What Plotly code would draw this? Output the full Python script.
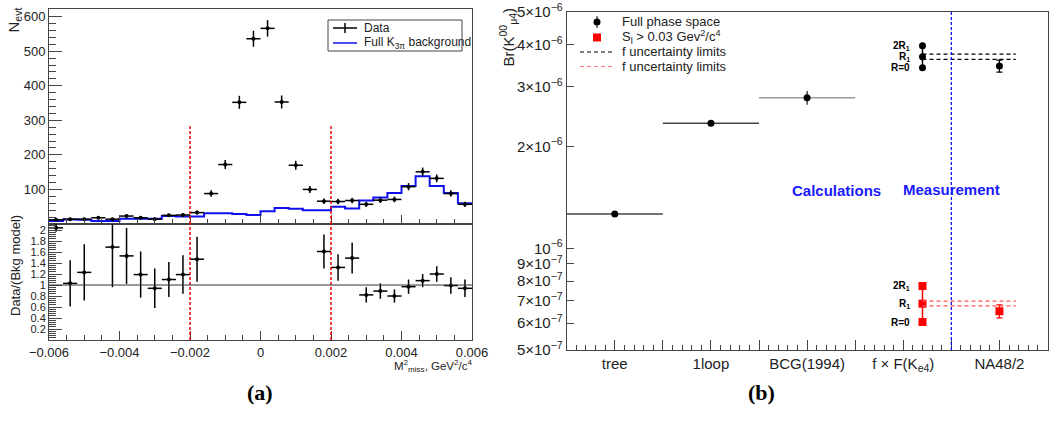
import numpy as np
import plotly.graph_objects as go

# ---------------- Panel (a) data ----------------
bin_centers = [-0.0058, -0.0054, -0.0050, -0.0046, -0.0042, -0.0038, -0.0034, -0.0030,
               -0.0026, -0.0022, -0.0018, -0.0014, -0.0010, -0.0006, -0.0002,
               0.0002, 0.0006, 0.0010, 0.0014, 0.0018, 0.0022, 0.0026, 0.0030,
               0.0034, 0.0038, 0.0042, 0.0046, 0.0050, 0.0054, 0.0058]
bin_half_width = 0.0002
data_counts = [12, 14, 14, 18, 14, 23, 18, 14, 25, 26, 33, 88, 172, 352, 536,
               566, 353, 170, 100, 66, 65, 68, 57, 69, 71, 108, 151, 132, 88, 57]
bkg_counts = [9, 13, 12, 9, 8.5, 15.5, 15.5, 15, 23, 22, 22, 31, 31, 29, 26,
              37, 46, 44, 40, 40, 50, 45, 68, 77, 90, 110, 138, 110, 90, 60]
ratio_vals = [2.04, 1.03, 1.23, None, 1.69, 1.53, 1.19, 0.94, 1.10, 1.19, 1.47,
              None, None, None, None, None, None, None, None,
              1.61, 1.32, 1.49, 0.82, 0.89, 0.80, 0.97, 1.08, 1.20, 0.99, 0.94]
ratio_errs = [0.07, 0.42, 0.51, None, 0.73, 0.51, 0.42, 0.36, 0.32, 0.35, 0.41,
              None, None, None, None, None, None, None, None,
              0.31, 0.24, 0.28, 0.14, 0.14, 0.12, 0.13, 0.12, 0.14, 0.15, 0.16]
cut_values = [-0.002, 0.002]
xticks_a = [-0.006, -0.004, -0.002, 0, 0.002, 0.004, 0.006]
xticklabels_a = ["\u22120.006", "\u22120.004", "\u22120.002", "0", "0.002", "0.004", "0.006"]
yticks_a = [100, 200, 300, 400, 500, 600]
ratio_ticks = [0.2, 0.4, 0.6, 0.8, 1.0, 1.2, 1.4, 1.6, 1.8, 2.0]
ratio_ticklabels = ["0.2", "0.4", "0.6", "0.8", "1", "1.2", "1.4", "1.6", "1.8", "2"]
legend_a_labels = ["Data", "Full K<sub>3\u03c0</sub> background"]

# ---------------- Panel (b) data ----------------
categories = ["tree", "1loop", "BCG(1994)", "f \u00d7 F(K<sub>e4</sub>)", "NA48/2"]
calc_x = [0.5, 1.5, 2.5]
calc_vals = [1.262e-6, 2.344e-6, 2.79e-6]
calc_errs = [0.0, 0.0, 0.13e-6]
calc_colors = ["#444444", "#444444", "#999999"]
r_labels = ["2R<sub>1</sub>", "R<sub>1</sub>", "R=0"]
f_x = 3.7
f_full = [3.975e-6, 3.687e-6, 3.42e-6]
f_cut = [7.73e-7, 6.855e-7, 6.05e-7]
limits_full = [3.755e-6, 3.62e-6]
limits_cut = [6.98e-7, 6.75e-7]
limits_end_x = 4.67
na48_x = 4.5
na48_full = 3.46e-6
na48_full_err = 0.14e-6
na48_cut = 6.51e-7
na48_cut_err = 0.29e-7
sep_x = 4.0
yticks_b = [5e-7, 6e-7, 7e-7, 8e-7, 9e-7, 1e-6, 2e-6, 3e-6, 4e-6, 5e-6]
yticklabels_b = ["5\u00d710<sup>\u22127</sup>", "6\u00d710<sup>\u22127</sup>", "7\u00d710<sup>\u22127</sup>",
                 "8\u00d710<sup>\u22127</sup>", "9\u00d710<sup>\u22127</sup>", "10<sup>\u22126</sup>",
                 "2\u00d710<sup>\u22126</sup>", "3\u00d710<sup>\u22126</sup>", "4\u00d710<sup>\u22126</sup>",
                 "5\u00d710<sup>\u22126</sup>"]
legend_b_labels = ["Full phase space", "S<sub>l</sub> > 0.03 Gev<sup>2</sup>/c<sup>4</sup>",
                   "f uncertainty limits", "f uncertainty limits"]

FONT = "Liberation Sans, Arial, sans-serif"
W, H = 1049, 423
BLUE = "#1010ee"
RED = "#ff0000"


def px_x(p):
    return p / W


def px_y(p):
    return 1 - p / H


fig = go.Figure()

# ---- (a) top: background step histogram ----
edges = [c - bin_half_width for c in bin_centers] + [bin_centers[-1] + bin_half_width]
fig.add_trace(go.Scatter(
    x=edges, y=list(bkg_counts) + [bkg_counts[-1]], mode="lines",
    line=dict(color=BLUE, width=2, shape="hv"),
    xaxis="x", yaxis="y", showlegend=False, hoverinfo="skip"))
fig.add_trace(go.Scatter(
    x=bin_centers, y=data_counts, mode="markers",
    marker=dict(color="black", size=4),
    error_x=dict(type="constant", value=bin_half_width, width=0, thickness=1.5, color="black"),
    error_y=dict(type="data", array=list(np.sqrt(data_counts)), width=0, thickness=1.5, color="black"),
    xaxis="x", yaxis="y", showlegend=False))

# ---- (a) ratio ----
fig.add_trace(go.Scatter(
    x=bin_centers, y=ratio_vals, mode="markers",
    marker=dict(color="black", size=4),
    error_x=dict(type="constant", value=bin_half_width, width=0, thickness=1.5, color="black"),
    error_y=dict(type="data", array=ratio_errs, width=0, thickness=1.5, color="black"),
    xaxis="x2", yaxis="y2", showlegend=False))

# ---- (b) ----
for xv, yv, ev, col in zip(calc_x, calc_vals, calc_errs, calc_colors):
    fig.add_trace(go.Scatter(
        x=[xv], y=[yv], mode="markers",
        marker=dict(color="black", size=7),
        error_x=dict(type="constant", value=0.5, width=0, thickness=1.5, color=col),
        error_y=dict(type="constant", value=ev, width=0, thickness=1.5, color="#444444"),
        xaxis="x3", yaxis="y3", showlegend=False))

fig.add_trace(go.Scatter(
    x=[f_x] * 3, y=f_full, mode="lines+markers",
    line=dict(color="black", width=1.5), marker=dict(color="black", size=7),
    xaxis="x3", yaxis="y3", showlegend=False))
fig.add_trace(go.Scatter(
    x=[f_x] * 3, y=f_cut, mode="lines+markers",
    line=dict(color=RED, width=1.5), marker=dict(color=RED, size=8, symbol="square"),
    xaxis="x3", yaxis="y3", showlegend=False))
fig.add_trace(go.Scatter(
    x=[na48_x], y=[na48_full], mode="markers",
    marker=dict(color="black", size=7),
    error_y=dict(type="constant", value=na48_full_err, width=3, thickness=1.2, color="black"),
    xaxis="x3", yaxis="y3", showlegend=False))
fig.add_trace(go.Scatter(
    x=[na48_x], y=[na48_cut], mode="markers",
    marker=dict(color=RED, size=8, symbol="square"),
    error_y=dict(type="constant", value=na48_cut_err, width=3, thickness=1.2, color=RED),
    xaxis="x3", yaxis="y3", showlegend=False))
fig.add_trace(go.Scatter(
    x=[f_x, limits_end_x, None, f_x, limits_end_x],
    y=[limits_full[0], limits_full[0], None, limits_full[1], limits_full[1]],
    mode="lines", connectgaps=False,
    line=dict(color="black", width=1.2, dash="4px,3px"),
    xaxis="x3", yaxis="y3", showlegend=False))
fig.add_trace(go.Scatter(
    x=[f_x, limits_end_x, None, f_x, limits_end_x],
    y=[limits_cut[0], limits_cut[0], None, limits_cut[1], limits_cut[1]],
    mode="lines", connectgaps=False,
    line=dict(color="#ff5555", width=1.2, dash="4px,3px"),
    xaxis="x3", yaxis="y3", showlegend=False))

shapes = []
for cv in cut_values:
    shapes.append(dict(type="line", xref="x", yref="y", x0=cv, x1=cv, y0=0, y1=283,
                       line=dict(color="#ee0000", width=1.5, dash="3px,2px")))
    shapes.append(dict(type="line", xref="x2", yref="y2 domain", x0=cv, x1=cv, y0=0, y1=1,
                       line=dict(color="#ee0000", width=1.5, dash="3px,2px")))
shapes.append(dict(type="line", xref="x2 domain", yref="y2", x0=0, x1=1, y0=1, y1=1,
                   line=dict(color="#333333", width=1)))
shapes.append(dict(type="line", xref="x3", yref="y3 domain", x0=sep_x, x1=sep_x, y0=0, y1=1,
                   line=dict(color="#0000ff", width=1.2, dash="3px,2px")))

# ---- manual legend (a) ----
shapes.append(dict(type="rect", xref="paper", yref="paper",
                   x0=px_x(328), x1=px_x(462), y0=px_y(51), y1=px_y(20),
                   line=dict(color="#444444", width=1), fillcolor="white", layer="above"))
shapes.append(dict(type="line", xref="paper", yref="paper", x0=px_x(333), x1=px_x(357),
                   y0=px_y(28), y1=px_y(28), line=dict(color="black", width=1.5)))
shapes.append(dict(type="line", xref="paper", yref="paper", x0=px_x(345), x1=px_x(345),
                   y0=px_y(23), y1=px_y(33), line=dict(color="black", width=1.5)))
shapes.append(dict(type="line", xref="paper", yref="paper", x0=px_x(333), x1=px_x(357),
                   y0=px_y(43), y1=px_y(43), line=dict(color=BLUE, width=1.5)))

# ---- manual legend (b) ----
leg_rows = [22, 37.5, 52, 66.5]
shapes.append(dict(type="circle", xref="paper", yref="paper",
                   x0=px_x(593.5), x1=px_x(600.5), y0=px_y(25.5), y1=px_y(18.5),
                   fillcolor="black", line=dict(color="black", width=0)))
shapes.append(dict(type="line", xref="paper", yref="paper", x0=px_x(597), x1=px_x(597),
                   y0=px_y(16), y1=px_y(28), line=dict(color="black", width=1)))
shapes.append(dict(type="rect", xref="paper", yref="paper",
                   x0=px_x(593), x1=px_x(601), y0=px_y(41.5), y1=px_y(33.5),
                   fillcolor=RED, line=dict(color=RED, width=0)))
shapes.append(dict(type="line", xref="paper", yref="paper", x0=px_x(580), x1=px_x(612),
                   y0=px_y(leg_rows[2]), y1=px_y(leg_rows[2]),
                   line=dict(color="black", width=1.2, dash="4px,3px")))
shapes.append(dict(type="line", xref="paper", yref="paper", x0=px_x(580), x1=px_x(612),
                   y0=px_y(leg_rows[3]), y1=px_y(leg_rows[3]),
                   line=dict(color="#ff7777", width=1.2, dash="4px,3px")))

annotations = []
for lab, row in zip(legend_a_labels, [28, 43]):
    annotations.append(dict(x=px_x(362), y=px_y(row), xref="paper", yref="paper", text=lab,
                            showarrow=False, xanchor="left", yanchor="middle",
                            font=dict(family=FONT, size=12, color="#222")))
for lab, row in zip(legend_b_labels, leg_rows):
    annotations.append(dict(x=px_x(620), y=px_y(row), xref="paper", yref="paper", text=lab,
                            showarrow=False, xanchor="left", yanchor="middle",
                            font=dict(family=FONT, size=13, color="#222")))
for lab, yv in zip(r_labels, f_full):
    annotations.append(dict(x=f_x, y=np.log10(yv), xref="x3", yref="y3", text="<b>" + lab + "</b>",
                            showarrow=False, xanchor="right", xshift=-10,
                            font=dict(family=FONT, size=10, color="black")))
for lab, yv in zip(r_labels, f_cut):
    annotations.append(dict(x=f_x, y=np.log10(yv), xref="x3", yref="y3", text="<b>" + lab + "</b>",
                            showarrow=False, xanchor="right", xshift=-10,
                            font=dict(family=FONT, size=10, color="black")))
annotations += [
    dict(x=px_x(883), y=px_y(190), xref="paper", yref="paper", text="<b>Calculations</b>",
         showarrow=False, font=dict(family=FONT, size=15, color="#1a1aff")),
    dict(x=px_x(1002), y=px_y(189), xref="paper", yref="paper", text="<b>Measurement</b>",
         showarrow=False, font=dict(family=FONT, size=15, color="#1a1aff")),
    dict(x=px_x(14), y=px_y(6), xref="paper", yref="paper", text="N<sub>evt</sub>",
         textangle=-90, showarrow=False, xanchor="center", yanchor="top",
         font=dict(family=FONT, size=15, color="#222")),
    dict(x=px_x(15), y=px_y(266), xref="paper", yref="paper", text="Data/(Bkg model)",
         textangle=-90, showarrow=False, xanchor="center", yanchor="middle",
         font=dict(family=FONT, size=13, color="#222")),
    dict(x=px_x(474), y=px_y(366), xref="paper", yref="paper",
         text="M<sup>2</sup><sub>miss</sub>, GeV<sup>2</sup>/c<sup>4</sup>",
         showarrow=False, xanchor="right", yanchor="middle",
         font=dict(family=FONT, size=11.5, color="#222")),
    dict(x=px_x(508), y=px_y(6), xref="paper", yref="paper", text="Br(K<sup>00</sup><sub>\u03bc4</sub>)",
         textangle=-90, showarrow=False, xanchor="center", yanchor="top",
         font=dict(family=FONT, size=15, color="#222")),
    dict(x=px_x(245), y=px_y(407), xref="paper", yref="paper", text="<b>(a)</b>",
         showarrow=False, font=dict(family="Liberation Serif, serif", size=22, color="black")),
    dict(x=px_x(777), y=px_y(407), xref="paper", yref="paper", text="<b>(b)</b>",
         showarrow=False, font=dict(family="Liberation Serif, serif", size=22, color="black")),
]

axis_common = dict(showline=True, mirror=True, linecolor="#444444", linewidth=1,
                   ticks="inside", tickcolor="#444444", showgrid=False, zeroline=False,
                   automargin=False)
tickfont = dict(family=FONT, size=13, color="#222")

fig.update_layout(
    width=W, height=H, autosize=False,
    margin=dict(l=0, r=0, t=0, b=0, pad=0),
    paper_bgcolor="white", plot_bgcolor="white",
    font=dict(family=FONT, color="#222"),
    showlegend=False,
    xaxis=dict(domain=[px_x(49), px_x(472)], range=[-0.006, 0.006], anchor="y",
               tickvals=xticks_a, showticklabels=False, ticklen=9,
               minor=dict(dtick=0.0005, ticklen=5, ticks="inside", tickcolor="#444444"),
               **axis_common),
    yaxis=dict(domain=[px_y(224), px_y(9)], range=[0, 622], anchor="x",
               tickvals=yticks_a, ticklen=13, tickfont=tickfont,
               minor=dict(dtick=20, ticklen=7, ticks="inside", tickcolor="#444444"),
               **axis_common),
    xaxis2=dict(domain=[px_x(49), px_x(472)], range=[-0.006, 0.006], anchor="y2",
                tickvals=xticks_a, ticktext=xticklabels_a, ticklen=9, tickfont=tickfont,
                minor=dict(dtick=0.0005, ticklen=5, ticks="inside", tickcolor="#444444"),
                **axis_common),
    yaxis2=dict(domain=[px_y(340), px_y(224)], range=[0, 2.11], anchor="x2",
                tickvals=ratio_ticks, ticktext=ratio_ticklabels, ticklen=13,
                tickfont=dict(family=FONT, size=11, color="#222"),
                minor=dict(dtick=0.04, ticklen=7, ticks="inside", tickcolor="#444444"),
                **axis_common),
    xaxis3=dict(domain=[px_x(566.7), px_x(1047.5)], range=[0, 5], anchor="y3",
                tickvals=[0, 0.5, 1, 1.5, 2, 2.5, 3, 3.5, 4, 4.5, 5],
                ticktext=["", categories[0], "", categories[1], "", categories[2], "",
                          categories[3], "", categories[4], ""],
                ticklen=10, tickfont=dict(family=FONT, size=15, color="#222"),
                minor=dict(dtick=0.1, ticklen=5, ticks="inside", tickcolor="#444444"),
                **axis_common),
    yaxis3=dict(domain=[px_y(350), px_y(12)], type="log",
                range=[np.log10(5e-7), np.log10(5e-6)], anchor="x3",
                tickvals=yticks_b, ticktext=yticklabels_b, ticklen=7,
                tickfont=dict(family=FONT, size=15, color="#222"),
                **axis_common),
    shapes=shapes, annotations=annotations,
)

fig.write_html("out.html", config={"displayModeBar": False},
               post_script="document.body.style.margin='0';document.body.style.overflow='hidden';")
